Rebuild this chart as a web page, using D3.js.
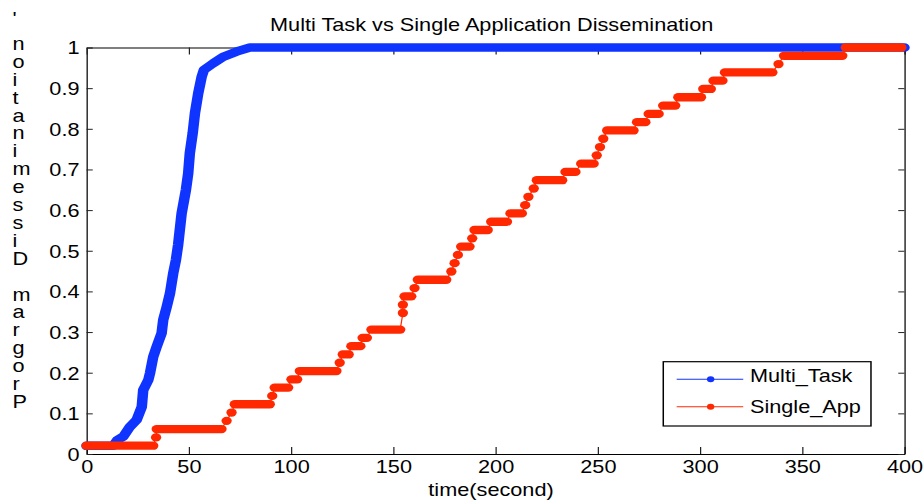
<!DOCTYPE html>
<html>
<head>
<meta charset="utf-8">
<script src="https://cdn.jsdelivr.net/npm/d3@7"></script>
<style>
  body { margin: 0; background: #fff; }
  text { font-family: "Liberation Sans", Arial, sans-serif; }
</style>
</head>
<body>
<script>
// Multi_Task: time (s) vs fraction of nodes reached
var taskTime  = [0, 13, 15, 18, 21.2, 24.5, 27, 27.7, 30.2, 31, 32.6, 34.3, 36.7, 37.5, 39.2, 40.8, 41.6, 42.4, 43.7, 44.8,
                 46.5, 48.6, 49.7, 50.5, 51.9, 53, 54.6, 56.3, 57.4, 61.9, 66.8, 73.4, 79.9, 400];
var taskValue = [0.02, 0.02, 0.034, 0.043, 0.067, 0.084, 0.116, 0.157, 0.182, 0.198, 0.239, 0.264, 0.297, 0.33, 0.362, 0.395, 0.42, 0.445, 0.477, 0.515,
                 0.592, 0.65, 0.69, 0.74, 0.789, 0.838, 0.887, 0.928, 0.945, 0.961, 0.977, 0.99, 1, 1];

// Single_App: step levels, each held from start to end (s)
var appStart = [0, 34, 34.3, 68.5, 70.9, 72.5, 90.8, 92, 100.2, 104.3, 123.8, 125.3, 129.5, 135, 139.3, 154.7, 154.7, 155.5, 160.4, 162,
                178.4, 180, 181.6, 183.2, 188.6, 189.7, 197.9, 207.3, 214.5, 216.1, 218.7, 220.2, 234.2, 241.9, 249.5, 251.1, 252.7, 254.6,
                269.2, 274.9, 282, 289.4, 301.6, 306.6, 312.2, 338.4, 341.1, 371.3];
var appEnd   = [32.6, 34, 66, 68.5, 70.9, 89.6, 90.8, 98.6, 103, 122.2, 123.8, 128.2, 133.9, 137.1, 153.4, 154.7, 154.7, 158.8, 160.4, 175.9,
                178.4, 180, 181.6, 187.3, 188.6, 196.2, 205.6, 212.9, 214.5, 216.1, 218.7, 232.6, 239.1, 248, 249.5, 251.1, 252.7, 267.5,
                273.3, 279.8, 287.9, 300.5, 305.3, 311, 335.4, 338.4, 369.6, 398.5];
var appLevel = [0.0204, 0.0408, 0.0612, 0.0816, 0.102, 0.1224, 0.1429, 0.1633, 0.1837, 0.2041, 0.2245, 0.2449, 0.2653, 0.2857, 0.3061,
                0.3469, 0.3673, 0.3878, 0.4082, 0.4286, 0.449, 0.4694, 0.4898, 0.5102, 0.5306, 0.551, 0.5714, 0.5918, 0.6122, 0.6327,
                0.6531, 0.6735, 0.6939, 0.7143, 0.7347, 0.7551, 0.7755, 0.7959, 0.8163, 0.8367, 0.8571, 0.8776, 0.898, 0.9184, 0.9388,
                0.9592, 0.9796, 1];

var xTicks = [0, 50, 100, 150, 200, 250, 300, 350, 400];
var yTicks = [0, 0.1, 0.2, 0.3, 0.4, 0.5, 0.6, 0.7, 0.8, 0.9, 1];
var seriesNames = ["Multi_Task", "Single_App"];
var seriesColors = ["#1034ff", "#ff2800"];
var title = "Multi Task vs Single Application Dissemination";
var xTitle = "time(second)";
var yTitle = "Program Dissemination'";

// the picture is stretched sideways, so draw in narrow units and scale x
var W = 924, H = 502, stretch = 1.24;
var fs = "17.5px";

var svg = d3.select("body").append("svg")
    .attr("width", W)
    .attr("height", H);
var g = svg.append("g").attr("transform", "scale(" + stretch + ",1)");

var x = d3.scaleLinear().domain([0, 400]).range([69.8, 729.4]);
var y = d3.scaleLinear().domain([0, 1]).range([454, 47.5]);

// axes with inward ticks on all four sides
var ax = g.append("g").attr("transform", "translate(0," + y(0) + ")")
    .call(d3.axisBottom(x).tickValues(xTicks).tickSize(-7).tickSizeOuter(0).tickPadding(7));
var ay = g.append("g").attr("transform", "translate(" + x(0) + ",0)")
    .call(d3.axisLeft(y).tickValues(yTicks).tickSize(-5).tickSizeOuter(0).tickPadding(5.7)
        .tickFormat(function (d) { return String(d); }));
var at = g.append("g").attr("transform", "translate(0," + y(1) + ")")
    .call(d3.axisTop(x).tickValues(xTicks).tickSize(-7).tickSizeOuter(0).tickFormat(""));
var ar = g.append("g").attr("transform", "translate(" + x(400) + ",0)")
    .call(d3.axisRight(y).tickValues(yTicks).tickSize(-5).tickSizeOuter(0).tickFormat(""));

g.selectAll(".tick text")
    .attr("font-family", "'Liberation Sans', Arial, sans-serif")
    .attr("font-size", fs)
    .attr("fill", "#000");
ay.selectAll(".tick text").attr("dy", "0.36em");
g.selectAll(".domain").attr("stroke", "#000").attr("stroke-width", 1);
g.selectAll(".tick line").attr("stroke", "#222");

// Multi_Task: dense markers look like a thick band
var taskPts = taskTime.map(function (t, i) { return [t, taskValue[i]]; });
var line = d3.line()
    .x(function (d) { return x(d[0]); })
    .y(function (d) { return y(d[1]); });

g.append("path")
    .datum(taskPts)
    .attr("d", line)
    .attr("fill", "none")
    .attr("stroke", seriesColors[0])
    .attr("stroke-width", 8.5)
    .attr("stroke-linecap", "round")
    .attr("stroke-linejoin", "round");

// Single_App: thin connecting line + thick runs of markers
var appPts = [];
appLevel.forEach(function (v, i) {
    appPts.push([appStart[i], v]);
    appPts.push([appEnd[i], v]);
});
g.append("path")
    .datum(appPts)
    .attr("d", line)
    .attr("fill", "none")
    .attr("stroke", seriesColors[1])
    .attr("stroke-width", 1);

g.selectAll("line.run")
    .data(appLevel)
    .enter()
    .append("line")
    .attr("class", "run")
    .attr("x1", function (d, i) { return x(appStart[i]); })
    .attr("x2", function (d, i) { return x(appEnd[i]) + 0.01; })
    .attr("y1", function (d) { return y(d); })
    .attr("y2", function (d) { return y(d); })
    .attr("stroke", seriesColors[1])
    .attr("stroke-width", 8.3)
    .attr("stroke-linecap", "round");

// title and axis labels
g.append("text")
    .attr("x", 396.5)
    .attr("y", 30.7)
    .attr("text-anchor", "middle")
    .attr("font-size", fs)
    .text(title);

g.append("text")
    .attr("x", 396)
    .attr("y", 496)
    .attr("text-anchor", "middle")
    .attr("font-size", fs)
    .text(xTitle);

// y label: upright letters stacked, read from bottom to top
var yChars = yTitle.split("").reverse();
g.append("text")
    .attr("font-size", fs)
    .selectAll("tspan")
    .data(yChars)
    .enter()
    .append("tspan")
    .attr("x", 10.1)
    .attr("y", function (d, i) { return i === 0 ? 25 : 50 + (i - 1) * 17.9; })
    .text(function (d) { return d; });

// legend
var lg = g.append("g");
lg.append("rect")
    .attr("x", 534.9)
    .attr("y", 361.7)
    .attr("width", 167.5)
    .attr("height", 64.3)
    .attr("fill", "#fff")
    .attr("stroke", "#000")
    .attr("stroke-width", 1.2);

var rows = [379.3, 406.7];
var textBase = [382.3, 413.3];
seriesNames.forEach(function (name, i) {
    lg.append("line")
        .attr("x1", 545.7).attr("x2", 599.4)
        .attr("y1", rows[i]).attr("y2", rows[i])
        .attr("stroke", seriesColors[i])
        .attr("stroke-width", 1);
    lg.append("circle")
        .attr("cx", 573.1).attr("cy", rows[i])
        .attr("r", 3)
        .attr("fill", seriesColors[i]);
    lg.append("text")
        .attr("x", 604.8)
        .attr("y", textBase[i])
        .attr("font-size", fs)
        .text(name);
});
</script>
</body>
</html>
